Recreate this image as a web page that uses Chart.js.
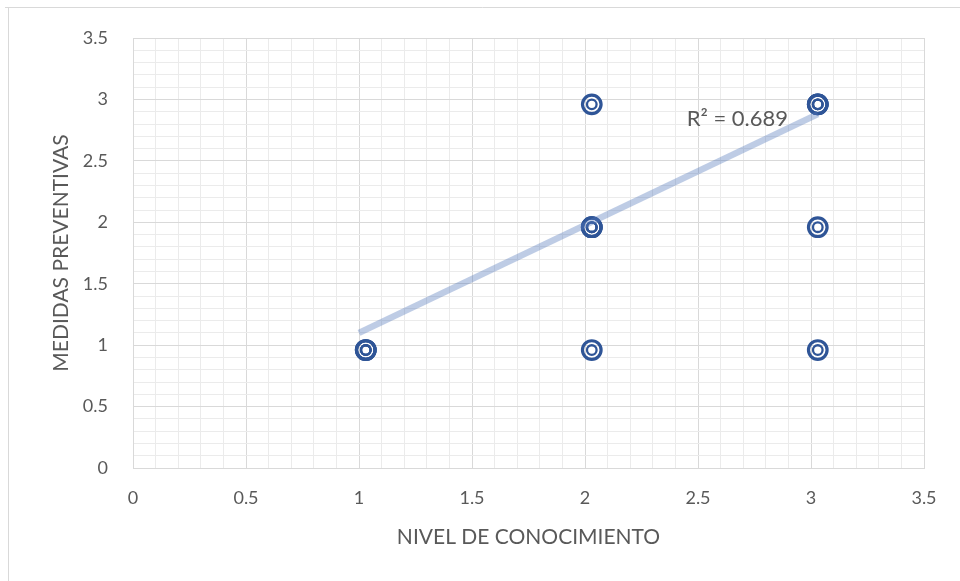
<!DOCTYPE html>
<html>
<head>
<meta charset="utf-8">
<script src="https://cdn.jsdelivr.net/npm/chart.js@4.4.1/dist/chart.umd.min.js"></script>
<style>
  html, body { margin: 0; padding: 0; background: #fff; }
  canvas { display: block; }
</style>
</head>
<body>
<canvas id="c" width="960" height="581"></canvas>
<script>
// Respondent scores: knowledge level (x) vs. preventive measures (y).
// Repeated pairs are listed once per respondent.
const nivelConocimiento  = [1.03, 1.03, 1.03, 2.03, 3.03, 2.03, 2.03, 2.03, 3.03, 2.03, 3.03, 3.03, 3.03];
const medidasPreventivas = [0.96, 0.96, 0.96, 0.96, 0.96, 1.96, 1.96, 1.96, 1.96, 2.96, 2.96, 2.96, 2.96];

// Linear trendline endpoints and its fit statistic
const tendenciaX = [1.0, 3.03];
const tendenciaY = [1.10, 2.88];
const r2Texto = 'R\u00B2 = 0.689';

// Axis labels every 0.5; minor grid every 0.1
const xTickLabels = ['0', '0.5', '1', '1.5', '2', '2.5', '3', '3.5'];
const yTickLabels = ['0', '0.5', '1', '1.5', '2', '2.5', '3', '3.5'];

const FONT = "Lato, 'Open Sans', sans-serif";
const TEXT = '#595959';
const BLUE = '#2f5597';

const puntos = nivelConocimiento.map((x, i) => ({ x, y: medidasPreventivas[i] }));
const tendencia = tendenciaX.map((x, i) => ({ x, y: tendenciaY[i] }));

const isMajor = v => Math.abs(v * 2 - Math.round(v * 2)) < 1e-6;
const gridColor = ctx => (ctx.tick && isMajor(ctx.tick.value)) ? '#d9d9d9' : '#ebebeb';

// White page with the light outer frame along the top and left edges
const frame = {
  id: 'frame',
  beforeDraw(chart) {
    const c = chart.ctx;
    c.save();
    c.fillStyle = '#fff';
    c.fillRect(0, 0, chart.width, chart.height);
    c.strokeStyle = '#d9d9d9';
    c.lineWidth = 1;
    c.beginPath();
    c.moveTo(5, 7.5); c.lineTo(chart.width, 7.5);
    c.moveTo(8.5, 7); c.lineTo(8.5, chart.height);
    c.stroke();
    c.restore();
  }
};

// Coefficient of determination next to the trendline
const r2Label = {
  id: 'r2Label',
  afterDatasetsDraw(chart) {
    const { x, y } = chart.scales;
    const c = chart.ctx;
    c.save();
    c.font = "22px " + FONT;
    c.fillStyle = TEXT;
    c.textAlign = 'left';
    c.textBaseline = 'middle';
    c.fillText(r2Texto, x.getPixelForValue(2.45), y.getPixelForValue(2.845));
    c.restore();
  }
};

new Chart(document.getElementById('c'), {
  type: 'scatter',
  data: {
    datasets: [
      {
        label: 'Tendencia',
        data: tendencia,
        showLine: true,
        borderColor: 'rgba(84,120,186,0.38)',
        borderWidth: 6.5,
        borderCapStyle: 'butt',
        pointRadius: 0,
        order: 0
      },
      {
        label: 'Medidas (anillo interior)',
        data: puntos,
        pointStyle: 'circle',
        pointRadius: 4.8,
        pointBorderWidth: 2.3,
        pointBorderColor: BLUE,
        pointBackgroundColor: 'rgba(0,0,0,0)',
        order: 1
      },
      {
        label: 'Medidas',
        data: puntos,
        pointStyle: 'circle',
        pointRadius: 9.3,
        pointBorderWidth: 3.2,
        pointBorderColor: BLUE,
        pointBackgroundColor: 'rgba(255,255,255,0)',
        order: 2
      }
    ]
  },
  options: {
    responsive: false,
    animation: false,
    devicePixelRatio: 1,
    layout: { padding: { top: 38, right: 36, bottom: 0, left: 0 } },
    plugins: {
      legend: { display: false },
      tooltip: { enabled: false }
    },
    scales: {
      x: {
        type: 'linear',
        min: 0, max: 3.5,
        afterFit(scale) { scale.height = 113; },
        grid: { color: gridColor, lineWidth: 1, drawTicks: false },
        border: { color: '#d9d9d9' },
        ticks: {
          stepSize: 0.1,
          autoSkip: false,
          maxRotation: 0,
          padding: 19,
          color: TEXT,
          font: { family: FONT, size: 18 },
          callback: v => isMajor(v) ? xTickLabels[Math.round(v * 2)] : ''
        },
        title: {
          display: true,
          text: 'NIVEL DE CONOCIMIENTO',
          color: TEXT,
          font: { family: FONT, size: 21 },
          padding: { top: 0, bottom: 31 }
        }
      },
      y: {
        type: 'linear',
        min: 0, max: 3.5,
        afterFit(scale) { scale.width = 133; },
        grid: { color: gridColor, lineWidth: 1, drawTicks: false },
        border: { color: '#d9d9d9' },
        ticks: {
          stepSize: 0.1,
          autoSkip: false,
          padding: 25,
          color: TEXT,
          font: { family: FONT, size: 18 },
          callback: v => isMajor(v) ? yTickLabels[Math.round(v * 2)] : ''
        },
        title: {
          display: true,
          text: 'MEDIDAS PREVENTIVAS',
          color: TEXT,
          font: { family: FONT, size: 21 },
          padding: { top: 49, bottom: 0 }
        }
      }
    }
  },
  plugins: [frame, r2Label]
});
</script>
</body>
</html>
